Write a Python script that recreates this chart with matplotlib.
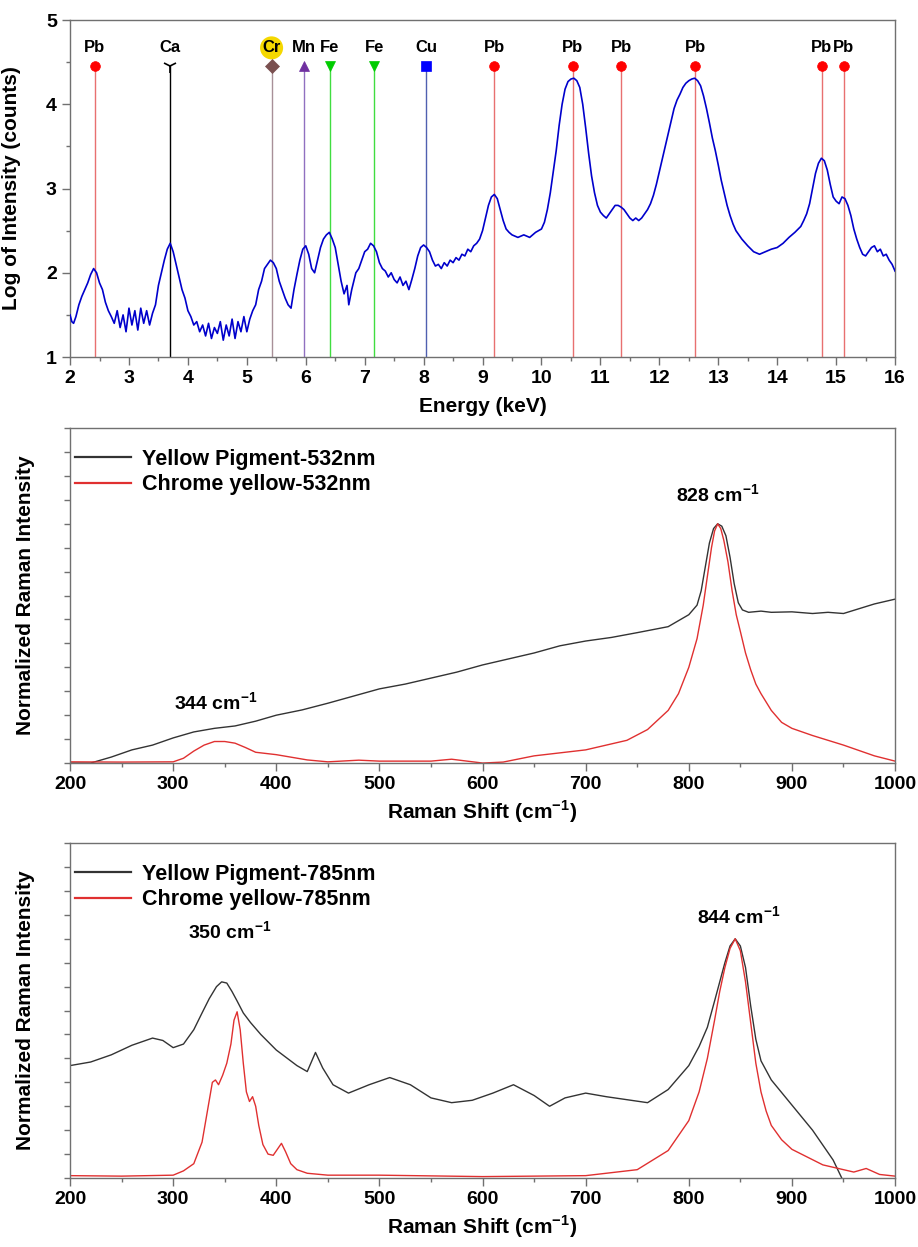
import matplotlib
matplotlib.use("Agg")
import matplotlib.pyplot as plt
from matplotlib.ticker import MultipleLocator, NullFormatter

plt.rcParams['font.family'] = ['Liberation Sans', 'DejaVu Sans']
plt.rcParams['font.weight'] = 'bold'
plt.rcParams['mathtext.fontset'] = 'custom'
plt.rcParams['mathtext.rm'] = 'Liberation Sans:bold'
plt.rcParams['mathtext.bf'] = 'Liberation Sans:bold'

# --- XRF spectrum (top panel) ---
energy = [2.00, 2.03, 2.06, 2.10, 2.15, 2.20, 2.25, 2.30, 2.35, 2.40, 2.45, 2.50, 2.55, 2.60,
          2.65, 2.70, 2.75, 2.80, 2.85, 2.90, 2.95, 3.00, 3.05, 3.10, 3.15, 3.20, 3.25, 3.30,
          3.35, 3.40, 3.45, 3.50, 3.55, 3.60, 3.65, 3.70, 3.75, 3.80, 3.85, 3.90, 3.95, 4.00,
          4.05, 4.10, 4.15, 4.20, 4.25, 4.30, 4.35, 4.40, 4.45, 4.50, 4.55, 4.60, 4.65, 4.70,
          4.75, 4.80, 4.85, 4.90, 4.95, 5.00, 5.05, 5.10, 5.15, 5.20, 5.25, 5.30, 5.35, 5.40,
          5.45, 5.50, 5.55, 5.60, 5.65, 5.70, 5.75, 5.80, 5.85, 5.90, 5.95, 6.00, 6.05, 6.10,
          6.15, 6.20, 6.25, 6.30, 6.35, 6.40, 6.45, 6.50, 6.55, 6.60, 6.65, 6.70, 6.73, 6.78,
          6.85, 6.90, 6.95, 7.00, 7.05, 7.10, 7.15, 7.20, 7.25, 7.30, 7.35, 7.40, 7.45, 7.50,
          7.55, 7.60, 7.65, 7.70, 7.75, 7.80, 7.85, 7.90, 7.95, 8.00, 8.05, 8.10, 8.15, 8.20,
          8.25, 8.30, 8.35, 8.40, 8.45, 8.50, 8.55, 8.60, 8.65, 8.70, 8.75, 8.80, 8.85, 8.90,
          8.95, 9.00, 9.05, 9.10, 9.15, 9.20, 9.25, 9.30, 9.35, 9.40, 9.45, 9.50, 9.60, 9.70,
          9.80, 9.90, 10.00, 10.05, 10.10, 10.15, 10.20, 10.25, 10.30, 10.35, 10.40, 10.45,
          10.50, 10.55, 10.60, 10.65, 10.70, 10.75, 10.80, 10.85, 10.90, 10.95, 11.00, 11.05,
          11.10, 11.15, 11.20, 11.25, 11.30, 11.35, 11.40, 11.45, 11.50, 11.55, 11.60, 11.65,
          11.70, 11.75, 11.80, 11.85, 11.90, 11.95, 12.00, 12.05, 12.10, 12.15, 12.20, 12.25,
          12.30, 12.35, 12.40, 12.45, 12.50, 12.55, 12.60, 12.65, 12.70, 12.75, 12.80, 12.85,
          12.90, 12.95, 13.00, 13.05, 13.10, 13.15, 13.20, 13.25, 13.30, 13.35, 13.40, 13.50,
          13.60, 13.70, 13.80, 13.90, 14.00, 14.10, 14.20, 14.30, 14.40, 14.45, 14.50, 14.55,
          14.60, 14.65, 14.70, 14.75, 14.80, 14.85, 14.90, 14.95, 15.00, 15.05, 15.10, 15.15,
          15.20, 15.25, 15.30, 15.35, 15.40, 15.45, 15.50, 15.55, 15.60, 15.65, 15.70, 15.75,
          15.80, 15.85, 15.90, 15.95, 16.00]
log_int = [1.50, 1.42, 1.40, 1.48, 1.62, 1.72, 1.80, 1.88, 1.98, 2.05, 2.00, 1.88, 1.80, 1.65,
           1.55, 1.48, 1.40, 1.55, 1.35, 1.50, 1.30, 1.58, 1.38, 1.55, 1.32, 1.58, 1.40, 1.55,
           1.38, 1.52, 1.62, 1.85, 2.00, 2.15, 2.28, 2.35, 2.25, 2.10, 1.95, 1.80, 1.70, 1.55,
           1.48, 1.38, 1.42, 1.30, 1.38, 1.25, 1.40, 1.22, 1.35, 1.28, 1.42, 1.20, 1.38, 1.25,
           1.45, 1.22, 1.42, 1.30, 1.48, 1.30, 1.45, 1.55, 1.62, 1.80, 1.90, 2.05, 2.10, 2.15,
           2.12, 2.05, 1.90, 1.80, 1.70, 1.62, 1.58, 1.80, 1.98, 2.15, 2.28, 2.32, 2.22, 2.05,
           2.00, 2.15, 2.30, 2.40, 2.45, 2.48, 2.40, 2.30, 2.10, 1.90, 1.75, 1.85, 1.62, 1.80,
           2.00, 2.05, 2.15, 2.25, 2.28, 2.35, 2.32, 2.25, 2.12, 2.05, 2.02, 1.95, 2.00, 1.92,
           1.88, 1.95, 1.85, 1.90, 1.80, 1.92, 2.05, 2.20, 2.30, 2.33, 2.30, 2.25, 2.15, 2.08,
           2.10, 2.05, 2.12, 2.08, 2.15, 2.12, 2.18, 2.15, 2.22, 2.20, 2.28, 2.25, 2.32, 2.35,
           2.40, 2.50, 2.65, 2.80, 2.90, 2.93, 2.88, 2.75, 2.62, 2.52, 2.48, 2.45, 2.42, 2.45,
           2.42, 2.48, 2.52, 2.60, 2.75, 2.95, 3.20, 3.45, 3.75, 4.00, 4.18, 4.27,
           4.30, 4.31, 4.28, 4.20, 4.00, 3.72, 3.42, 3.15, 2.95, 2.80, 2.72, 2.68,
           2.65, 2.70, 2.75, 2.80, 2.80, 2.78, 2.75, 2.70, 2.65, 2.62, 2.65, 2.62,
           2.65, 2.70, 2.75, 2.82, 2.92, 3.05, 3.20, 3.35, 3.50, 3.65, 3.80, 3.95,
           4.05, 4.12, 4.20, 4.25, 4.28, 4.30, 4.31, 4.28, 4.22, 4.10, 3.95, 3.78,
           3.60, 3.45, 3.28, 3.10, 2.95, 2.80, 2.68, 2.58, 2.50, 2.45, 2.40, 2.32,
           2.25, 2.22, 2.25, 2.28, 2.30, 2.35, 2.42, 2.48, 2.55, 2.62, 2.70, 2.82,
           3.00, 3.18, 3.30, 3.36, 3.33, 3.22, 3.05, 2.90, 2.85, 2.82, 2.90, 2.88,
           2.80, 2.68, 2.52, 2.40, 2.30, 2.22, 2.20, 2.25, 2.30, 2.32, 2.25, 2.28,
           2.20, 2.22, 2.15, 2.10, 2.02]

elements = ['Pb', 'Ca', 'Cr', 'Mn', 'Fe', 'Fe', 'Cu', 'Pb', 'Pb', 'Pb', 'Pb', 'Pb', 'Pb']
element_kev = [2.42, 3.70, 5.42, 5.97, 6.41, 7.16, 8.04, 9.20, 10.53, 11.35, 12.61, 14.76, 15.13]
line_colors = {'Pb': '#e87070', 'Ca': '#000000', 'Cr': '#a89098', 'Mn': '#9070c0',
               'Fe': '#40dd40', 'Cu': '#5060b0'}
mark_style = {'Pb': ('o', '#ff0000'), 'Ca': ('1', '#000000'), 'Cr': ('D', '#7a5050'),
              'Mn': ('^', '#7030a0'), 'Fe': ('v', '#00cc00'), 'Cu': ('s', '#0000ff')}

# --- Raman 532 nm (middle panel) ---
pig532_x = [200, 220, 240, 260, 280, 300, 320, 340, 360, 380, 400, 425, 450, 475, 500, 525,
            550, 575, 600, 625, 650, 675, 700, 725, 750, 780, 800, 808, 812, 816, 820, 824,
            828, 832, 836, 840, 844, 848, 852, 858, 870, 880, 900, 920, 935, 950, 965, 980,
            1000]
pig532_y = [0.0, 0.0, 0.025, 0.055, 0.075, 0.105, 0.13, 0.145, 0.155, 0.175, 0.2, 0.222,
            0.25, 0.28, 0.31, 0.33, 0.355, 0.38, 0.41, 0.435, 0.46, 0.49, 0.51, 0.525, 0.545,
            0.57, 0.62, 0.66, 0.72, 0.82, 0.92, 0.98, 1.0, 0.99, 0.95, 0.86, 0.75, 0.67,
            0.64, 0.63, 0.635, 0.63, 0.632, 0.625, 0.63, 0.625, 0.645, 0.665, 0.685]
cy532_x = [200, 250, 300, 310, 320, 330, 340, 350, 360, 370, 380, 400, 430, 450, 480, 500,
           550, 570, 600, 620, 650, 700, 740, 760, 780, 790, 800, 808, 814, 818, 822, 825,
           828, 831, 834, 838, 842, 846, 850, 855, 860, 865, 870, 880, 890, 900, 920, 950,
           980, 1000]
cy532_y = [0.005, 0.004, 0.005, 0.02, 0.05, 0.075, 0.09, 0.09, 0.083, 0.065, 0.045, 0.035,
           0.013, 0.005, 0.012, 0.008, 0.008, 0.016, 0.0, 0.004, 0.03, 0.055, 0.095, 0.14,
           0.22, 0.29, 0.40, 0.52, 0.66, 0.78, 0.90, 0.97, 1.0, 0.98, 0.93, 0.84, 0.72, 0.62,
           0.55, 0.46, 0.39, 0.33, 0.29, 0.22, 0.17, 0.145, 0.115, 0.075, 0.03, 0.008]

# --- Raman 785 nm (bottom panel) ---
pig785_x = [200, 220, 240, 260, 280, 290, 300, 310, 320, 328, 335, 342, 347, 352, 357, 362,
            368, 375, 385, 400, 420, 430, 438, 445, 455, 470, 490, 510, 530, 550, 570, 590,
            610, 630, 650, 665, 680, 700, 720, 760, 780, 800, 810, 818, 825, 830, 835, 840,
            845, 850, 855, 860, 865, 870, 880, 900, 920, 940, 950]
pig785_y = [0.47, 0.485, 0.515, 0.555, 0.585, 0.575, 0.545, 0.56, 0.62, 0.69, 0.75, 0.80,
            0.82, 0.815, 0.78, 0.74, 0.69, 0.65, 0.60, 0.535, 0.47, 0.445, 0.525, 0.46, 0.39,
            0.355, 0.39, 0.42, 0.39, 0.335, 0.315, 0.325, 0.355, 0.39, 0.345, 0.3, 0.335,
            0.355, 0.34, 0.315, 0.37, 0.47, 0.55, 0.63, 0.74, 0.82, 0.90, 0.97, 1.0, 0.97,
            0.88, 0.72, 0.58, 0.49, 0.41, 0.305, 0.2, 0.075, -0.015]
cy785_x = [200, 250, 300, 310, 320, 328, 334, 338, 341, 344, 348, 352, 356, 359, 362, 365,
           368, 371, 374, 377, 380, 383, 387, 392, 397, 401, 405, 409, 414, 420, 430, 450,
           500, 600, 700, 750, 780, 800, 810, 818, 825, 830, 835, 840, 845, 850, 855, 860,
           865, 870, 875, 880, 890, 900, 930, 960, 972, 985, 1000]
cy785_y = [0.01, 0.008, 0.012, 0.03, 0.06, 0.15, 0.30, 0.40, 0.41, 0.39, 0.43, 0.48, 0.56,
           0.66, 0.695, 0.62, 0.48, 0.36, 0.32, 0.34, 0.30, 0.22, 0.14, 0.10, 0.095, 0.12,
           0.145, 0.11, 0.06, 0.035, 0.02, 0.012, 0.012, 0.006, 0.01, 0.035, 0.115, 0.24,
           0.36, 0.50, 0.66, 0.78, 0.88, 0.96, 1.0, 0.95, 0.82, 0.65, 0.48, 0.36, 0.28, 0.22,
           0.16, 0.12, 0.055, 0.025, 0.04, 0.015, 0.008]

peak_labels_532 = [(828, 1.12, '828'), (341, 0.25, '344')]
peak_labels_785 = [(355, 1.03, '350'), (848, 1.09, '844')]

SPINE = '#707070'


def style_axes(ax):
    for s in ax.spines.values():
        s.set_color(SPINE)
        s.set_linewidth(1.0)
    ax.tick_params(which='both', direction='out', color=SPINE, top=False, right=False,
                   labelsize=14)
    ax.tick_params(which='major', length=6, width=1)
    ax.tick_params(which='minor', length=3, width=1)


fig = plt.figure(figsize=(9.18, 12.47), dpi=100)
L, W = 0.0763, 0.8987

# top: XRF
ax1 = fig.add_axes([L, 0.7137, W, 0.2702])
ax1.plot(energy, log_int, color='#0000cc', lw=1.2, zorder=3)
for el, kev in zip(elements, element_kev):
    ax1.plot([kev, kev], [1, 4.45], color=line_colors[el], lw=1.0, zorder=2)
    m, c = mark_style[el]
    ms = 10 if m == '1' else 7
    ax1.plot(kev, 4.45, marker=m, color=c, ms=ms, mew=1.2 if m == '1' else 0.5, zorder=4)
    if el == 'Cr':
        ax1.text(kev, 4.67, el, ha='center', va='center', fontsize=12, fontweight='bold',
                 bbox=dict(boxstyle='circle,pad=0.14', fc='#f5d800', ec='none'))
    else:
        ax1.text(kev, 4.67, el, ha='center', va='center', fontsize=12, fontweight='bold')
ax1.set_xlim(2, 16)
ax1.set_ylim(1, 5)
ax1.xaxis.set_major_locator(MultipleLocator(1))
ax1.xaxis.set_minor_locator(MultipleLocator(0.5))
ax1.yaxis.set_major_locator(MultipleLocator(1))
ax1.yaxis.set_minor_locator(MultipleLocator(0.5))
style_axes(ax1)
ax1.set_xlabel('Energy (keV)', fontsize=15, fontweight='bold', labelpad=7)
ax1.set_ylabel('Log of Intensity (counts)', fontsize=15, fontweight='bold')
ax1.yaxis.set_label_coords(-0.06, 0.5)


def raman_panel(rect, px, py, cx, cy, name, peaks):
    ax = fig.add_axes(rect)
    ax.plot(px, py, color='#333333', lw=1.0, label='Yellow Pigment-' + name)
    ax.plot(cx, cy, color='#e03030', lw=1.0, label='Chrome yellow-' + name)
    for x, y, t in peaks:
        ax.text(x, y, t + r' cm$^{\mathbf{-1}}$', ha='center', va='center', fontsize=14,
                fontweight='bold')
    ax.set_xlim(200, 1000)
    ax.set_ylim(0, 1.4)
    ax.xaxis.set_major_locator(MultipleLocator(100))
    ax.xaxis.set_minor_locator(MultipleLocator(50))
    ax.yaxis.set_major_locator(MultipleLocator(0.2))
    ax.yaxis.set_minor_locator(MultipleLocator(0.1))
    ax.yaxis.set_major_formatter(NullFormatter())
    style_axes(ax)
    ax.tick_params(axis='y', which='both', length=4)
    ax.set_xlabel(r'Raman Shift (cm$^{-1}$)', fontsize=15, fontweight='bold', labelpad=4)
    ax.set_ylabel('Normalized Raman Intensity', fontsize=15, fontweight='bold')
    ax.yaxis.set_label_coords(-0.042, 0.5)
    leg = ax.legend(loc='upper left', bbox_to_anchor=(-0.007, 0.97), frameon=False,
                    fontsize=15.5, handlelength=2.6, handletextpad=0.5, borderaxespad=0.2,
                    labelspacing=0.2, borderpad=0.3)
    for line in leg.get_lines():
        line.set_linewidth(1.6)
    for t in leg.get_texts():
        t.set_fontweight('bold')
    return ax


raman_panel([L, 0.3881, W, 0.2686], pig532_x, pig532_y, cy532_x, cy532_y, '532nm',
            peak_labels_532)
raman_panel([L, 0.0553, W, 0.2686], pig785_x, pig785_y, cy785_x, cy785_y, '785nm',
            peak_labels_785)

fig.savefig('out.png', dpi=100)
